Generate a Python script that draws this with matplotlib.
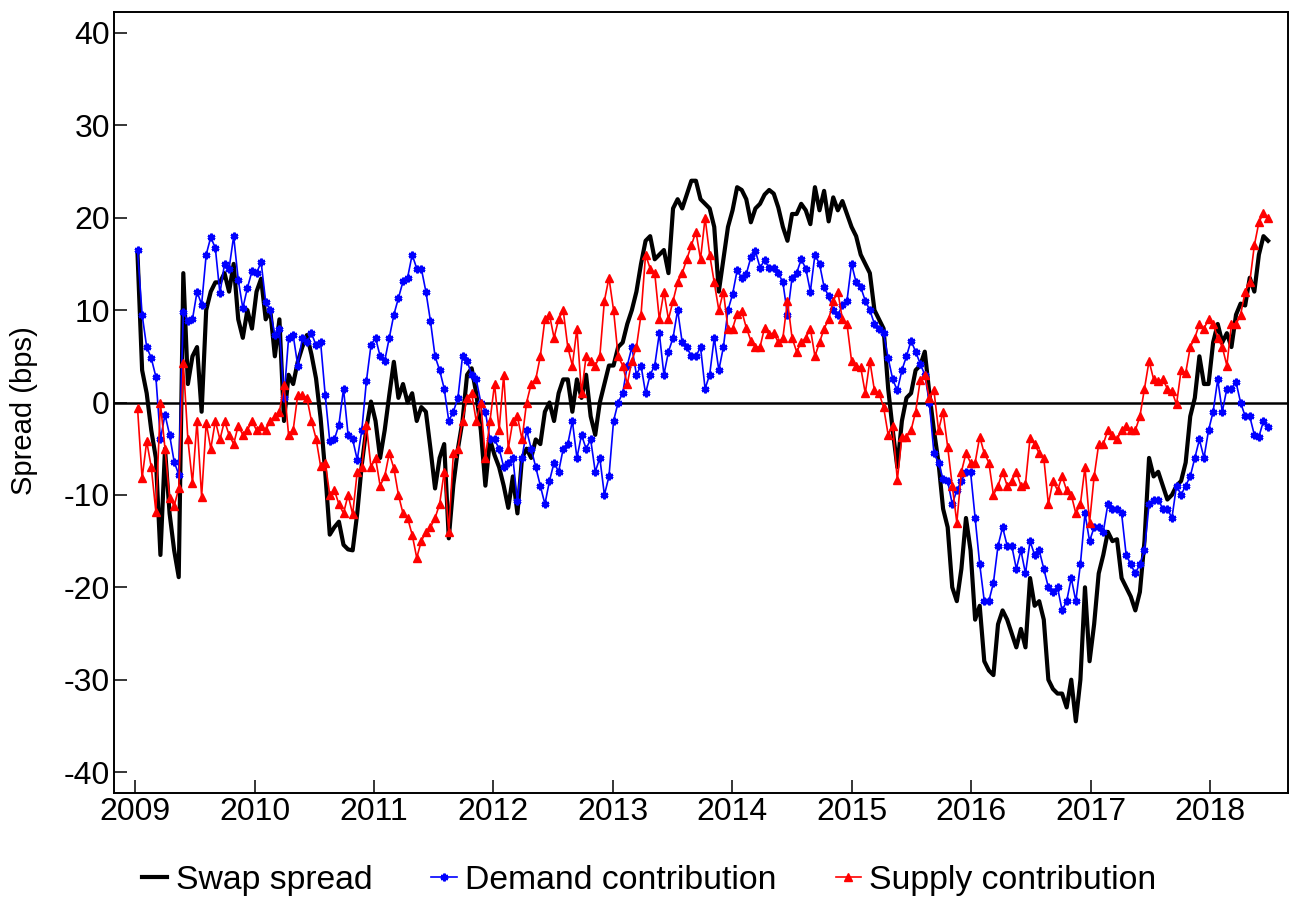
import numpy as np
import pandas as pd
import matplotlib
matplotlib.use("Agg")
import matplotlib.pyplot as plt
import matplotlib.dates as mdates

# biweekly observations, Jan 2009 - Jun 2018 (values in bps, one row per year)
swap_spread = [
    16, 3.5, 1, -3, -6, -16.5, -5, -12, -16, -18.9, 14, 2, 5, 6, -1, 10, 12, 13, 13, 14, 12, 15, 9, 7, 10, 8,
    12, 13.4, 9, 10, 5, 9, -2, 3, 2, 4.4, 6, 7.3, 5.2, 2.6, -1.7, -7.5, -14.3, -13.5, -12.9, -15.4, -15.9, -16, -12, -6.7, -2.8, 0.1,
    -2, -6, -3, 0.8, 4.4, 0.5, 2, 0, 1, -2, -0.5, -1, -5, -9.3, -6, -4.5, -14.7, -8.9, -5, -2, 3, 3.7, 1, -3, -9, -4,
    -5.7, -7, -9, -11.4, -8, -12, -6, -5, -6, -4, -4.5, -1, 0, -2, 1, 2.5, 2.5, -1, 2.5, 0.5, 3, -1.5, -3.5, 0, 2, 4,
    4, 6, 6.5, 8.5, 10, 12, 15, 17.5, 18, 15.5, 16, 16.5, 14, 21, 22, 21, 22.5, 24, 24, 22, 21.5, 21, 19, 12, 15.5, 19,
    20.8, 23.3, 23, 22, 19.5, 21, 21.5, 22.5, 23, 22.6, 21.1, 19, 17.5, 20.4, 20.4, 21.5, 20.8, 19.3, 23.3, 20.8, 22.9, 19.6, 22.2, 20.8, 21.8, 20.4,
    19, 18, 16, 15, 14, 10, 9, 8, 1.5, -3, -7, -2, 0.5, 1, 3.5, 4, 5.5, 1, -3, -6.5, -11.5, -13.5, -20, -21.5, -18, -12.5,
    -16, -23.5, -22, -28, -29, -29.5, -24, -22.5, -23.5, -25, -26.5, -24.5, -26.5, -19, -22, -21.5, -23.5, -30, -31, -31.5, -31.5, -33, -30, -34.5, -30, -20,
    -28, -24, -18.5, -16.5, -14, -15, -14.8, -19, -20, -21, -22.5, -20.5, -15, -6, -8, -7.5, -9, -10.5, -10, -9, -8.5, -6.5, -1.5, 0.5, 5, 2,
    2, 6.5, 8.5, 6.5, 7.5, 6, 9.5, 10.7, 10.5, 13.5, 12, 16, 18, 17.5,
]

demand = [
    16.5, 9.5, 6, 4.8, 2.8, -4, -1.3, -3.5, -6.4, -7.8, 9.8, 8.8, 9, 12, 10.6, 16, 17.9, 16.7, 11.8, 15, 14.5, 18, 13.3, 10.2, 12.4, 14.2,
    14, 15.2, 10.9, 10, 7.3, 8, 0.5, 7, 7.3, 4, 7, 6.5, 7.5, 6.2, 6.5, 0.8, -4.2, -4, -2.4, 1.5, -3.5, -4, -6.2, -3, 2.3, 6.2,
    7, 5, 4.5, 7, 9.5, 11.3, 13.1, 13.5, 16, 14.5, 14.5, 12, 8.8, 5, 3.5, 1.5, -2, -1, 0.5, 5, 4.5, 3, 2.5, 0, -1, -4,
    -4, -5, -7, -6.5, -6, -10.7, -6, -3, -5, -7, -9, -11, -8.5, -6.5, -7.5, -5, -4.5, -2, -6, -3.5, -5, -4, -7.5, -6, -10, -8,
    -2, 0, 1, 4, 6, 3, 4, 1, 3, 4, 7.5, 3, 5.5, 7, 10, 6.5, 6, 5, 5, 6, 1.5, 3, 7, 3.5, 6, 10,
    11.7, 14.3, 13.5, 13.9, 15.7, 16.4, 14.6, 15.4, 14.6, 14.6, 14, 13, 9.5, 13.5, 14, 15.5, 14.5, 12, 16, 15, 12.5, 11.5, 10, 9.5, 10.5, 11,
    15, 13, 12.5, 11, 10, 8.5, 8, 7.5, 4.8, 2.5, 1.3, 3.5, 5, 6.7, 5.5, 4.2, 3, 0, -5.5, -6.5, -8.3, -8.5, -11, -9.5, -8.5, -7.5,
    -7.5, -12.5, -17.5, -21.5, -21.5, -19.5, -15.5, -13.5, -15.5, -15.5, -18, -16, -18.5, -15, -16.5, -16, -18, -20, -20.5, -20, -22.5, -21.5, -19, -21.5, -17.5, -12,
    -15, -13.5, -13.5, -14, -11, -11.5, -11.5, -12, -16.5, -17.5, -18.5, -17.5, -16, -11, -10.5, -10.5, -11.5, -11.5, -12.5, -9, -10, -9, -8, -6, -4, -6,
    -3, -1, 2.5, -1, 1.5, 1.5, 2.2, 0, -1.5, -1.5, -3.5, -3.7, -2, -2.7,
]

supply = [
    -0.6, -8.2, -4.2, -7, -11.8, -0.1, -5, -10.3, -11.2, -9.3, 4.3, -4, -8.7, -2, -10.2, -2.2, -5, -2, -4, -2, -3.5, -4.5, -2.5, -3.5, -3, -2,
    -3, -2.5, -3, -2, -1.5, -1, 1.9, -3.5, -3, 0.8, 0.8, 0.5, -2, -3.9, -6.9, -6.5, -10, -9.5, -11, -12, -10, -12.1, -7.5, -7, -2.4, -7,
    -6, -9, -8, -5.5, -7.1, -10, -12, -12.5, -14.3, -16.8, -15, -14, -13.5, -12.5, -11, -7.5, -14, -5.5, -5, -2, 0.5, 1, -2, 0, -6, -2,
    2, -3, 3, -5, -2, -1.5, -4, 0, 2, 2.5, 5, 9, 9.5, 7, 9, 10, 6, 4, 8, 1, 5, 4.5, 4, 5, 11, 13.5,
    10, 5, 4, 2, 4.5, 6, 9.5, 16, 14.5, 14, 9, 12, 9, 11, 13, 14, 15.5, 17, 18.5, 15.5, 20, 16, 13, 10, 12, 8,
    8, 9.6, 9.9, 8.1, 6.7, 6, 6, 8.1, 7.4, 7.5, 6.5, 7, 11, 7, 5.5, 6.5, 7, 8, 5, 6.5, 8, 9, 11, 12, 9, 8.5,
    4.5, 4, 3.8, 1, 4.5, 1.3, 1, -0.5, -3.5, -2.5, -8.4, -3.7, -3.7, -3, -1, 2.4, 3, 0.5, 1.3, -3, -1, -4.8, -9, -13, -7.5, -5.5,
    -6.5, -6.5, -3.7, -5.5, -6.5, -10, -9, -7.5, -9, -8.5, -7.5, -9, -8.8, -3.8, -4.5, -5.5, -6, -11, -8.5, -9.5, -8, -9.5, -10, -12, -11, -7,
    -13, -8, -4.5, -4.5, -3, -3.5, -4, -3, -2.5, -3, -3, -1.5, 1.5, 4.5, 2.5, 2.3, 2.5, 1.5, 1.2, -0.2, 3.5, 3.2, 6, 7, 8.5, 8,
    9, 8.5, 7, 6, 4, 8.5, 8.5, 9.5, 12, 13, 17, 19.5, 20.5, 20,
]

dates = pd.date_range("2009-01-08", periods=len(swap_spread), freq="14D")

plt.rcParams['font.family'] = ['Liberation Sans', 'DejaVu Sans']
plt.rcParams['axes.unicode_minus'] = False

fig = plt.figure(figsize=(12.91, 8.98), dpi=100)
ax = fig.add_axes([114 / 1291, 1 - 793 / 898, (1288 - 114) / 1291, (793 - 12) / 898])

ax.axhline(0, color='black', lw=1.8, zorder=1)
ax.plot(dates, swap_spread, color='black', lw=3, label='Swap spread', zorder=2)
ax.plot(dates, demand, color='#0000ff', lw=1.2, marker=(6, 2, 0), ms=5.5, mew=1.8,
        label='Demand contribution', zorder=3)
ax.plot(dates, supply, color='#ff0000', lw=1.2, marker='^', ms=5.5,
        label='Supply contribution', zorder=4)

ax.set_xlim(pd.Timestamp("2008-10-28"), pd.Timestamp("2018-08-28"))
ax.set_ylim(-42.26, 42.26)
ax.set_yticks(range(-40, 41, 10))
ax.xaxis.set_major_locator(mdates.YearLocator())
ax.xaxis.set_major_formatter(mdates.DateFormatter('%Y'))
ax.tick_params(axis='both', direction='in', length=9.5, width=1.1, labelsize=23, pad=3)
ax.tick_params(top=False, right=False)
for s in ax.spines.values():
    s.set_linewidth(1.4)

ax.set_ylabel('Spread (bps)', fontsize=21)
ax.yaxis.set_label_coords(-0.0647, 0.49)

fig.legend(loc='center', bbox_to_anchor=(0.503, 0.02), ncol=3, frameon=False,
           fontsize=24.3, handlelength=0.75, handletextpad=0.25, columnspacing=1.75)

fig.savefig('out.png', dpi=100)
